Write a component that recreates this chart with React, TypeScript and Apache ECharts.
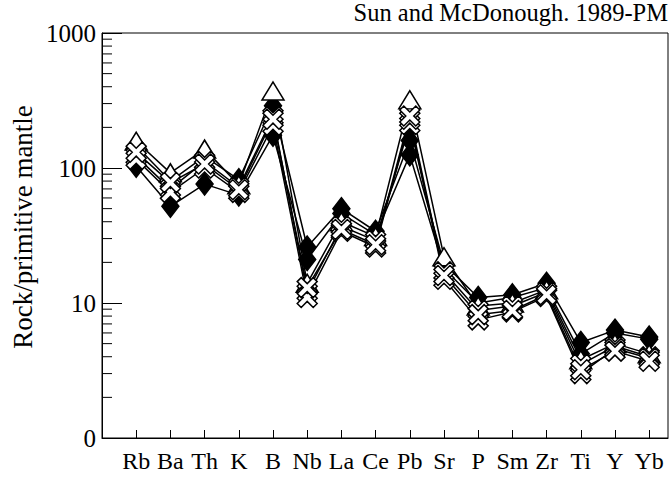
import React, { useEffect, useRef } from "react";
import * as echarts from "echarts";

// Elements along the x axis (primitive-mantle normalised spider plot)
const elements = ["Rb", "Ba", "Th", "K", "B", "Nb", "La", "Ce", "Pb", "Sr", "P", "Sm", "Zr", "Ti", "Y", "Yb"];

// Y tick values and the labels printed next to them
const yTickValues = [1, 10, 100, 1000];
const yTickLabels = ["0", "10", "100", "1000"];

// Minor ticks inside each decade
const minorTickValues = [2, 3, 4, 5, 6, 7, 8, 9, 20, 30, 40, 50, 60, 70, 80, 90, 200, 300, 400, 500, 600, 700, 800, 900];

// Samples, normalised to primitive mantle
const diamondA = [103, 52, 76, 63, 175, 21, 46, 32, 125, 18, 10, 11, 13, 4.2, 6.0, 5.4];
const diamondB = [146, 80, 122, 82, 289, 26, 50, 34, 160, 19.5, 11, 11.5, 14, 5.1, 6.3, 5.6];
const triangleA = [158, 92, 138, 75, 372, 14, 40, 31, 320, 22, 9.5, 10, 12.5, 3.8, 5.0, 4.2];
const crossA = [122, 70, 112, 72, 240, 12, 37, 29, 210, 17, 8.8, 9.5, 12, 3.5, 4.8, 4.0];
const crossB = [116, 66, 100, 66, 207, 11, 34, 26, 230, 15, 7.5, 8.6, 11.2, 3.0, 4.6, 3.9];
const crossC = [131, 78, 107, 69, 230, 13, 35, 27, 243, 16, 8.2, 8.8, 11.5, 3.2, 4.4, 3.7];

const FONT = "'Liberation Serif', 'Times New Roman', serif";
const CROSS = "path://M0,2 L2,0 L5,3 L8,0 L10,2 L7,5 L10,8 L8,10 L5,7 L2,10 L0,8 L3,5 Z";

const toPoints = (vals: number[]) => vals.map((v, i) => [i + 1, v]);

function sampleSeries(vals: number[], symbol: string, size: number | number[], fill: string) {
  return {
    type: "line",
    data: toPoints(vals),
    symbol,
    symbolSize: size,
    showAllSymbol: true,
    lineStyle: { color: "#000", width: 1.5 },
    itemStyle: { color: fill, borderColor: "#000", borderWidth: 1.5 },
    emphasis: { disabled: true },
    silent: true,
  };
}

export default function App() {
  const ref = useRef<HTMLDivElement>(null);

  useEffect(() => {
    if (!ref.current) return;
    const chart = echarts.init(ref.current, undefined, { renderer: "svg" });
    chart.setOption({
      animation: false,
      backgroundColor: "#fff",
      textStyle: { fontFamily: FONT },
      grid: { left: 102, right: 2, top: 33, bottom: 43, show: true, borderColor: "#000", borderWidth: 1 },
      xAxis: {
        type: "value",
        min: 0,
        max: 16.55,
        interval: 1,
        axisLine: { lineStyle: { color: "#000", width: 1 } },
        axisTick: { inside: true, length: 8, lineStyle: { color: "#000", width: 1 } },
        splitLine: { show: false },
        axisLabel: {
          color: "#000",
          fontFamily: FONT,
          fontSize: 24,
          margin: 11,
          showMinLabel: false,
          showMaxLabel: false,
          formatter: (v: number) => (Number.isInteger(v) && v >= 1 && v <= elements.length ? elements[v - 1] : ""),
        },
      },
      yAxis: {
        type: "log",
        logBase: 10,
        min: 1,
        max: 1000,
        axisLine: { lineStyle: { color: "#000", width: 1 } },
        axisTick: { inside: true, length: 20, lineStyle: { color: "#000", width: 1 } },
        splitLine: { show: false },
        axisLabel: {
          color: "#000",
          fontFamily: FONT,
          fontSize: 25,
          margin: 6,
          formatter: (v: number) => {
            const k = yTickValues.indexOf(Math.round(v));
            return k >= 0 ? yTickLabels[k] : "";
          },
        },
      },
      graphic: [
        {
          type: "text",
          right: 2,
          top: 0,
          style: { text: "Sun and McDonough. 1989-PM", fontFamily: FONT, fontSize: 24.5, fill: "#000" },
        },
        {
          type: "text",
          x: 23,
          y: 227,
          rotation: Math.PI / 2,
          style: {
            text: "Rock/primitive mantle",
            fontFamily: FONT,
            fontSize: 27,
            fill: "#000",
            align: "center",
            verticalAlign: "middle",
          },
        },
      ],
      series: [
        {
          type: "custom",
          coordinateSystem: "cartesian2d",
          silent: true,
          clip: false,
          data: minorTickValues.map((v) => [0, v]),
          renderItem: (_params: any, api: any) => {
            const p = api.coord([0, api.value(1)]);
            return {
              type: "line",
              shape: { x1: p[0], y1: p[1], x2: p[0] + 10, y2: p[1] },
              style: { stroke: "#000", lineWidth: 1 },
            };
          },
        },
        sampleSeries(diamondA, "diamond", [17, 22], "#000"),
        sampleSeries(diamondB, "diamond", [17, 22], "#000"),
        sampleSeries(triangleA, "triangle", [22, 18], "#fff"),
        sampleSeries(crossA, CROSS, 20, "#fff"),
        sampleSeries(crossB, CROSS, 20, "#fff"),
        sampleSeries(crossC, CROSS, 20, "#fff"),
      ],
    });
    return () => chart.dispose();
  }, []);

  return <div ref={ref} style={{ width: 670, height: 481, position: "absolute", left: 0, top: 0 }} />;
}
